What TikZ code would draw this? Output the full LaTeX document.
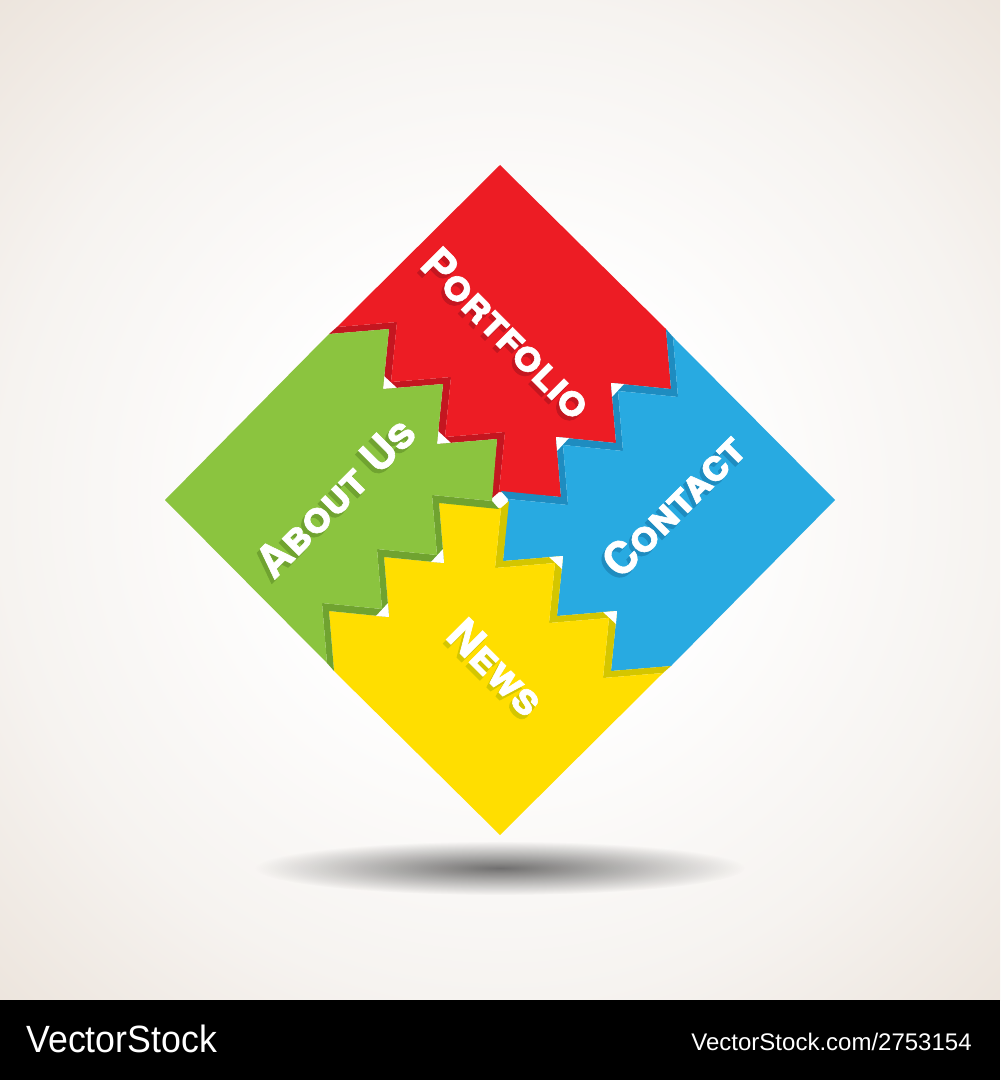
\documentclass[tikz,border=0pt]{standalone}
\usepackage{fontspec}
\setmainfont{Liberation Sans}
\newfontfamily\tagfont{TeX Gyre Heros}[BoldFeatures={FakeBold=1.4}]
\usetikzlibrary{fadings}

\definecolor{redmain}{RGB}{237,28,36}
\definecolor{reddark}{RGB}{196,22,32}
\definecolor{bluemain}{RGB}{40,170,225}
\definecolor{bluedark}{RGB}{30,140,192}
\definecolor{yellowmain}{RGB}{255,222,0}
\definecolor{yellowdark}{RGB}{212,198,0}
\definecolor{greenmain}{RGB}{139,196,63}
\definecolor{greendark}{RGB}{112,163,48}
\definecolor{papermid}{RGB}{246,243,240}
\definecolor{paperedge}{RGB}{236,228,220}

\pgfdeclareradialshading{paper}{\pgfpoint{0bp}{0bp}}{color(0bp)=(white); color(10bp)=(white); color(25bp)=(papermid); color(36bp)=(paperedge); color(50bp)=(paperedge)}
\tikzfading[name=floorfade, inner color=transparent!45, outer color=transparent!100]

% outline of one piece (the top one), the others are turned copies
\newcommand{\bodypath}{(500,165) -- (337,327) -- (397,322) -- (391,382) -- (451,377) -- (445,437) -- (505,432) -- (499,492) -- (561,497) -- (556,437) -- (616,443) -- (611,383) -- (671,389) -- (666,329) -- cycle}
\newcommand{\bandpath}{(337,327) -- (397,322) -- (391,382) -- (451,377) -- (445,437) -- (505,432) -- (499,492) -- (491,499) -- (497,439) -- (437,444) -- (443,384) -- (383,389) -- (389,329) -- (329,334) -- cycle}
\newcommand{\notchpath}{(383,389) -- (384,376) -- (397,388) -- cycle (437,444) -- (438,431) -- (451,443) -- cycle}

\tikzset{
  tagtext/.style={text=white, inner sep=0pt, font=\tagfont\bfseries\scshape\fontsize{22}{22}\selectfont},
  tagshadow/.style={tagtext, text=#1},
  markfont/.style={text=white, inner sep=0pt}
}

\begin{document}
\begin{tikzpicture}[x=0.5pt,y=-0.5pt]
  \useasboundingbox (0,0) rectangle (1000,1080);

  % Paper
  \shade[shading=paper] (0,0) rectangle (1000,1000);

  % Floor shadow
  \fill[black, path fading=floorfade] (500,868) ellipse [x radius=245, y radius=27];

  % Red piece
  \begin{scope}
    \fill[reddark] \bandpath;
    \fill[white] \notchpath;
    \fill[redmain] \bodypath;
  \end{scope}

  % Blue piece
  \begin{scope}[rotate around={-90:(500,500)}]
    \fill[bluedark] \bandpath;
    \fill[white] \notchpath;
    \fill[bluemain] \bodypath;
  \end{scope}

  % Yellow piece
  \begin{scope}[rotate around={180:(500,500)}]
    \fill[yellowdark] \bandpath;
    \fill[white] \notchpath;
    \fill[yellowmain] \bodypath;
  \end{scope}

  % Green piece
  \begin{scope}[rotate around={90:(500,500)}]
    \fill[greendark] \bandpath;
    \fill[white] \notchpath;
    \fill[greenmain] \bodypath;
  \end{scope}

  % Labels
  \node[tagshadow=reddark, rotate=-45] (portfolio-sh) at (504,337) {Portfolio};
  \node[tagtext, rotate=-45] (portfolio) at (507,333) {Portfolio};
  \node[tagshadow=bluedark, rotate=45] (contact-sh) at (670,509) {Contact};
  \node[tagtext, rotate=45] (contact) at (673,505) {Contact};
  \node[tagshadow=yellowdark, rotate=-45] (news-sh) at (493,671) {News};
  \node[tagtext, rotate=-45] (news) at (496,667) {News};
  \node[tagshadow=greendark, rotate=45] (about-sh) at (332,501) {About Us};
  \node[tagtext, rotate=45] (about) at (335,497) {About Us};

  % Stock bar
  \fill[black] (0,1000) rectangle (1000,1080);
  \node[markfont, anchor=base west, font=\fontsize{19}{19}\selectfont, xscale=0.94] (brand) at (26,1052) {VectorStock};
  \node[markfont, anchor=base east, font=\fontsize{12}{12}\selectfont] (ref) at (972,1050) {VectorStock.com/2753154};
\end{tikzpicture}
\end{document}
